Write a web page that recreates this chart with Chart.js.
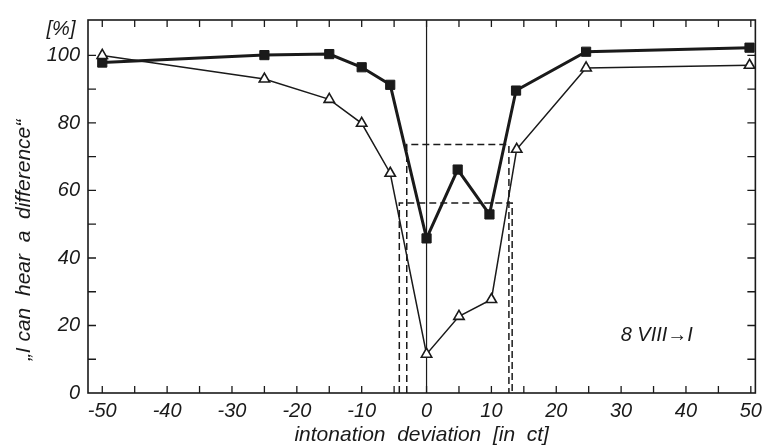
<!DOCTYPE html>
<html>
<head>
<meta charset="utf-8">
<script src="https://cdn.jsdelivr.net/npm/chart.js@4.4.1/dist/chart.umd.min.js"></script>
<style>
html,body{margin:0;padding:0;background:#fff;}
#wrap{width:768px;height:448px;position:relative;}
</style>
</head>
<body>
<div id="wrap"><canvas id="c"></canvas></div>
<script>
// ---- data ----
const xTicks = [-50, -40, -30, -20, -10, 0, 10, 20, 30, 40, 50];
const yTicks = [0, 20, 40, 60, 80, 100];

const squareX = [-50, -25, -15, -10, -5.6, 0, 4.8, 9.7, 13.8, 24.6, 49.8];
const squareY = [97.9, 100.1, 100.4, 96.5, 91.3, 45.8, 66.2, 52.9, 89.6, 101.1, 102.3];

const triangleX = [-50, -25, -15, -10, -5.6, 0, 5, 10, 13.9, 24.6, 49.8];
const triangleY = [100, 93, 87, 79.9, 65.1, 11.5, 22.7, 27.7, 72.2, 96.3, 97.1];

// threshold boxes (dashed)
const innerBoxX = [-3.05, -3.05, 12.7, 12.7];
const innerBoxY = [0, 73.6, 73.6, 0];
const outerBoxX = [-4.2, -4.2, 13.2, 13.2];
const outerBoxY = [0, 56.3, 56.3, 0];

const annotation = "8 VIII\u2192I";
const yUnit = "[%]";
const yTitle = "\u201EI can  hear  a  difference\u201C";
const xTitle = "intonation  deviation  [in  ct]";

const pts = (xs, ys) => xs.map((x, i) => ({x: x, y: ys[i]}));
const INK = '#1a1a1a';
const FONT = "'Liberation Sans', Arial, sans-serif";

const decor = {
  id: 'decor',
  beforeDatasetsDraw(chart) {
    const {ctx, chartArea: a, scales: {x, y}} = chart;
    ctx.save();
    ctx.strokeStyle = INK;
    // zero line
    ctx.lineWidth = 1.2;
    ctx.beginPath();
    const x0 = x.getPixelForValue(0);
    ctx.moveTo(x0, a.top); ctx.lineTo(x0, a.bottom);
    ctx.stroke();
    // frame
    ctx.lineWidth = 1.6;
    ctx.strokeRect(a.left, a.top, a.right - a.left, a.bottom - a.top);
    // inward ticks
    ctx.lineWidth = 1.3;
    ctx.beginPath();
    for (let v = -50; v <= 50; v += 5) {
      const px = x.getPixelForValue(v);
      ctx.moveTo(px, a.top); ctx.lineTo(px, a.top + 7);
      ctx.moveTo(px, a.bottom); ctx.lineTo(px, a.bottom - 7);
    }
    for (let v = 10; v <= 100; v += 10) {
      const py = y.getPixelForValue(v);
      ctx.moveTo(a.left, py); ctx.lineTo(a.left + 8, py);
      ctx.moveTo(a.right, py); ctx.lineTo(a.right - 8, py);
    }
    ctx.stroke();
    ctx.restore();
  },
  afterDraw(chart) {
    const {ctx, chartArea: a, scales: {x, y}} = chart;
    ctx.save();
    ctx.fillStyle = INK;
    ctx.textAlign = 'center';
    ctx.textBaseline = 'middle';
    ctx.font = "italic 20px " + FONT;
    ctx.fillText(yUnit, 61, 29);
    ctx.fillText(annotation, x.getPixelForValue(35.5), y.getPixelForValue(17));
    // y title
    ctx.font = "italic 21px " + FONT;
    ctx.translate(24, 240);
    ctx.rotate(-Math.PI / 2);
    ctx.fillText(yTitle, 0, 0);
    ctx.restore();
  }
};

new Chart(document.getElementById('c'), {
  type: 'line',
  data: {
    datasets: [
      {data: pts(outerBoxX, outerBoxY), borderColor: INK, borderWidth: 1.5, borderDash: [7, 4], pointRadius: 0, fill: false, tension: 0},
      {data: pts(innerBoxX, innerBoxY), borderColor: INK, borderWidth: 1.5, borderDash: [7, 4], pointRadius: 0, fill: false, tension: 0},
      {data: pts(triangleX, triangleY), borderColor: INK, borderWidth: 1.5, pointStyle: 'triangle', pointRadius: 6,
        pointBackgroundColor: '#fff', pointBorderColor: INK, pointBorderWidth: 1.6, fill: false, tension: 0},
      {data: pts(squareX, squareY), borderColor: INK, borderWidth: 3, pointStyle: 'rect', pointRadius: 6.5,
        pointBackgroundColor: INK, pointBorderColor: INK, pointBorderWidth: 1, fill: false, tension: 0}
    ]
  },
  options: {
    responsive: true,
    maintainAspectRatio: false,
    animation: false,
    events: [],
    layout: {padding: {top: 16, right: 6, left: 0, bottom: 0}},
    plugins: {legend: {display: false}, tooltip: {enabled: false}},
    scales: {
      x: {
        type: 'linear', min: -52.2, max: 50.7,
        grid: {display: false, drawTicks: false},
        border: {display: false},
        afterBuildTicks: s => { s.ticks = xTicks.map(v => ({value: v})); },
        afterFit: s => { s.height = 55; },
        ticks: {color: INK, padding: 6, maxRotation: 0, autoSkip: false, font: {family: FONT, size: 20, style: 'italic'}},
        title: {display: true, text: xTitle, color: INK, padding: {top: 0, bottom: 0}, font: {family: FONT, size: 21, style: 'italic'}}
      },
      y: {
        type: 'linear', min: 0, max: 110.5,
        grid: {display: false, drawTicks: false},
        border: {display: false},
        afterBuildTicks: s => { s.ticks = yTicks.map(v => ({value: v})); },
        afterFit: s => { s.width = 88; },
        ticks: {color: INK, padding: 8, autoSkip: false, font: {family: FONT, size: 20, style: 'italic'}}
      }
    }
  },
  plugins: [decor]
});
</script>
</body>
</html>
